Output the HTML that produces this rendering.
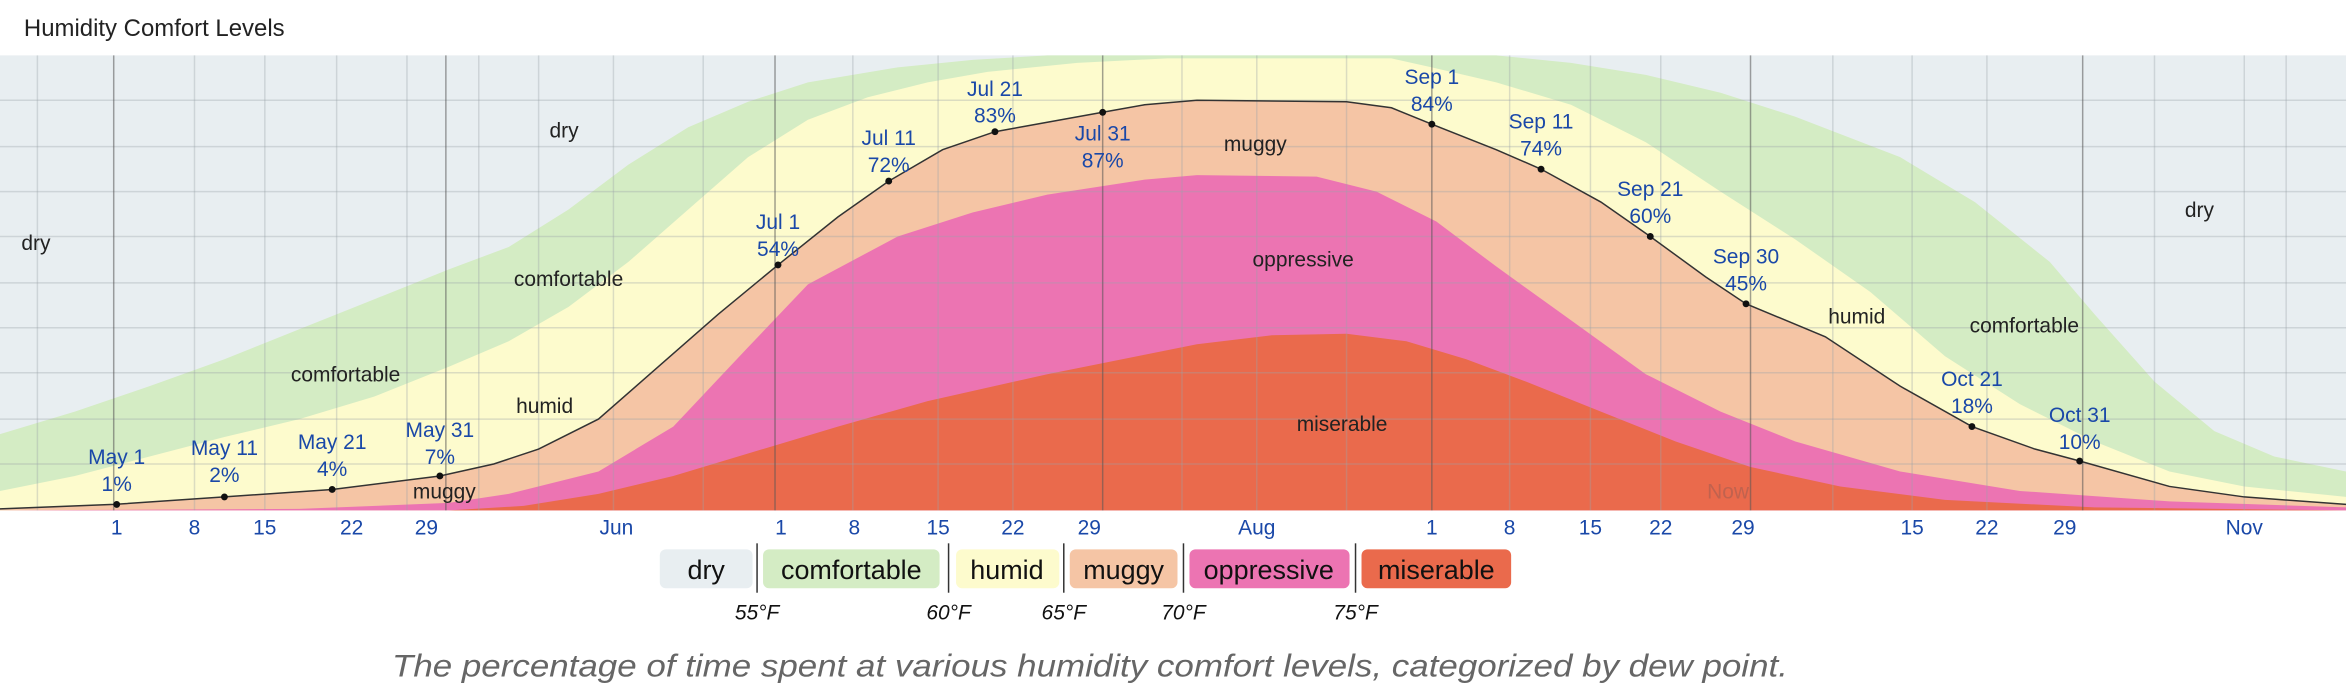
<!DOCTYPE html>
<html><head><meta charset="utf-8"><style>
html,body{margin:0;padding:0;background:#fff;}
svg{display:block;font-family:"Liberation Sans",Arial,sans-serif;}
</style></head><body>
<svg width="2346" height="696" viewBox="0 0 1568 465" preserveAspectRatio="none" xmlns="http://www.w3.org/2000/svg">
<rect width="1568" height="465" fill="#fff"/>
<text x="16" y="24" font-size="16" fill="#222">Humidity Comfort Levels</text>
<rect x="0" y="37" width="1568" height="304" fill="#e8eef1"/>
<path fill="#d4ecc4" d="M0,290 L50,275 L100,258 L150,240 L200,220 L250,200 L300,180 L340,165 L380,140 L420,110 L460,85 L500,68 L540,55 L600,45 L650,40 L700,37 L1000,37 L1050,42 L1100,50 L1150,62 L1200,78 L1270,105 L1320,135 L1370,175 L1400,210 L1440,255 L1480,288 L1520,305 L1568,315 L1568,341 L0,341 Z"/>
<path fill="#fdfbcd" d="M0,328 L50,318 L100,305 L150,292 L200,280 L250,265 L300,245 L340,228 L380,205 L420,175 L460,140 L500,105 L540,80 L580,65 L620,55 L660,48 L720,42 L780,39 L930,39 L957,45 L1000,55 L1050,70 L1100,95 L1150,128 L1200,160 L1250,195 L1300,238 L1350,270 L1400,295 L1450,315 L1500,325 L1568,332 L1568,341 L0,341 Z"/>
<path fill="#f5c5a5" d="M0,340 L76,337 L150,332 L222,327 L294,318 L330,310 L360,300 L400,280 L440,245 L480,210 L520,177 L560,145 L594,121 L630,100 L665,88 L737,75 L765,70 L800,67 L900,68 L930,72 L957,83 L1000,100 L1030,113 L1070,135 L1103,158 L1140,185 L1167,203 L1220,225 L1270,258 L1318,285 L1360,300 L1390,308 L1450,325 L1500,332 L1568,337 L1568,341 L0,341 Z"/>
<path fill="#ec74b2" d="M0,341 L200,340 L300,336 L340,330 L400,315 L450,285 L500,232 L540,190 L600,158 L650,142 L700,130 L765,120 L800,117 L880,118 L920,128 L960,148 L1000,178 L1050,214 L1100,250 L1150,275 L1200,295 L1270,315 L1350,328 L1450,335 L1568,339 L1568,341 Z"/>
<path fill="#ea6a4c" d="M300,341 L350,338 L400,330 L450,318 L500,303 L560,285 L620,268 L700,250 L765,237 L800,230 L850,224 L900,223 L940,228 L980,240 L1020,255 L1070,275 L1120,295 L1170,312 L1230,325 L1300,334 L1400,339 L1568,341 Z"/>
<g stroke="#9aa3a8" stroke-opacity="0.35" stroke-width="1">
<line x1="0" y1="67" x2="1568" y2="67"/><line x1="0" y1="98" x2="1568" y2="98"/><line x1="0" y1="128" x2="1568" y2="128"/><line x1="0" y1="158" x2="1568" y2="158"/><line x1="0" y1="189" x2="1568" y2="189"/><line x1="0" y1="219" x2="1568" y2="219"/><line x1="0" y1="249" x2="1568" y2="249"/><line x1="0" y1="280" x2="1568" y2="280"/><line x1="0" y1="310" x2="1568" y2="310"/>
<line x1="25" y1="37" x2="25" y2="341"/><line x1="130" y1="37" x2="130" y2="341"/><line x1="177" y1="37" x2="177" y2="341"/><line x1="225" y1="37" x2="225" y2="341"/><line x1="272" y1="37" x2="272" y2="341"/><line x1="320" y1="37" x2="320" y2="341"/><line x1="360" y1="37" x2="360" y2="341"/><line x1="410" y1="37" x2="410" y2="341"/><line x1="470" y1="37" x2="470" y2="341"/><line x1="570" y1="37" x2="570" y2="341"/><line x1="627" y1="37" x2="627" y2="341"/><line x1="677" y1="37" x2="677" y2="341"/><line x1="790" y1="37" x2="790" y2="341"/><line x1="840" y1="37" x2="840" y2="341"/><line x1="900" y1="37" x2="900" y2="341"/><line x1="1009" y1="37" x2="1009" y2="341"/><line x1="1063" y1="37" x2="1063" y2="341"/><line x1="1110" y1="37" x2="1110" y2="341"/><line x1="1225" y1="37" x2="1225" y2="341"/><line x1="1278" y1="37" x2="1278" y2="341"/><line x1="1328" y1="37" x2="1328" y2="341"/><line x1="1440" y1="37" x2="1440" y2="341"/><line x1="1500" y1="37" x2="1500" y2="341"/><line x1="1528" y1="37" x2="1528" y2="341"/>
</g>
<g stroke="#555" stroke-opacity="0.55" stroke-width="1">
<line x1="76" y1="37" x2="76" y2="341"/><line x1="298" y1="37" x2="298" y2="341"/><line x1="518" y1="37" x2="518" y2="341"/><line x1="737" y1="37" x2="737" y2="341"/><line x1="957" y1="37" x2="957" y2="341"/><line x1="1170" y1="37" x2="1170" y2="341"/><line x1="1392" y1="37" x2="1392" y2="341"/>
</g>
<path fill="none" stroke="#333" stroke-width="1" d="M0,340 L76,337 L150,332 L222,327 L294,318 L330,310 L360,300 L400,280 L440,245 L480,210 L520,177 L560,145 L594,121 L630,100 L665,88 L737,75 L765,70 L800,67 L900,68 L930,72 L957,83 L1000,100 L1030,113 L1070,135 L1103,158 L1140,185 L1167,203 L1220,225 L1270,258 L1318,285 L1360,300 L1390,308 L1450,325 L1500,332 L1568,337"/>
<g fill="#111">
<circle cx="78" cy="337" r="2.3"/><circle cx="150" cy="332" r="2.3"/><circle cx="222" cy="327" r="2.3"/><circle cx="294" cy="318" r="2.3"/><circle cx="520" cy="177" r="2.3"/><circle cx="594" cy="121" r="2.3"/><circle cx="665" cy="88" r="2.3"/><circle cx="737" cy="75" r="2.3"/><circle cx="957" cy="83" r="2.3"/><circle cx="1030" cy="113" r="2.3"/><circle cx="1103" cy="158" r="2.3"/><circle cx="1167" cy="203" r="2.3"/><circle cx="1318" cy="285" r="2.3"/><circle cx="1390" cy="308" r="2.3"/>
</g>
<g font-size="14" fill="#222" text-anchor="middle">
<text x="24" y="167">dry</text><text x="377" y="92">dry</text><text x="1470" y="145">dry</text>
<text x="231" y="255">comfortable</text><text x="380" y="191">comfortable</text><text x="1353" y="222">comfortable</text>
<text x="364" y="276">humid</text><text x="1241" y="216">humid</text>
<text x="297" y="333">muggy</text><text x="839" y="101">muggy</text>
<text x="871" y="178">oppressive</text><text x="897" y="288">miserable</text>
<text x="1155" y="333" fill="#b06050" opacity="0.7">Now</text>
</g>
<g font-size="14" fill="#1a48a8" text-anchor="middle">
<text x="78" y="310">May 1</text><text x="78" y="328">1%</text>
<text x="150" y="304">May 11</text><text x="150" y="322">2%</text>
<text x="222" y="300">May 21</text><text x="222" y="318">4%</text>
<text x="294" y="292">May 31</text><text x="294" y="310">7%</text>
<text x="520" y="153">Jul 1</text><text x="520" y="171">54%</text>
<text x="594" y="97">Jul 11</text><text x="594" y="115">72%</text>
<text x="665" y="64">Jul 21</text><text x="665" y="82">83%</text>
<text x="737" y="94">Jul 31</text><text x="737" y="112">87%</text>
<text x="957" y="56">Sep 1</text><text x="957" y="74">84%</text>
<text x="1030" y="86">Sep 11</text><text x="1030" y="104">74%</text>
<text x="1103" y="131">Sep 21</text><text x="1103" y="149">60%</text>
<text x="1167" y="176">Sep 30</text><text x="1167" y="194">45%</text>
<text x="1318" y="258">Oct 21</text><text x="1318" y="276">18%</text>
<text x="1390" y="282">Oct 31</text><text x="1390" y="300">10%</text>
</g>
<g font-size="14" fill="#1a48a8" text-anchor="middle">
<text x="78" y="357">1</text><text x="130" y="357">8</text><text x="177" y="357">15</text><text x="235" y="357">22</text><text x="285" y="357">29</text><text x="412" y="357">Jun</text><text x="522" y="357">1</text><text x="571" y="357">8</text><text x="627" y="357">15</text><text x="677" y="357">22</text><text x="728" y="357">29</text><text x="840" y="357">Aug</text><text x="957" y="357">1</text><text x="1009" y="357">8</text><text x="1063" y="357">15</text><text x="1110" y="357">22</text><text x="1165" y="357">29</text><text x="1278" y="357">15</text><text x="1328" y="357">22</text><text x="1380" y="357">29</text><text x="1500" y="357">Nov</text>
</g>
<g font-size="18" fill="#111" text-anchor="middle">
<rect x="441" y="367" width="62" height="26" rx="4" fill="#e8eef1"/><text x="472" y="387">dry</text>
<rect x="510" y="367" width="118" height="26" rx="4" fill="#d4ecc4"/><text x="569" y="387">comfortable</text>
<rect x="639" y="367" width="69" height="26" rx="4" fill="#fdfbcd"/><text x="673" y="387">humid</text>
<rect x="715" y="367" width="72" height="26" rx="4" fill="#f5c5a5"/><text x="751" y="387">muggy</text>
<rect x="795" y="367" width="107" height="26" rx="4" fill="#ec74b2"/><text x="848" y="387">oppressive</text>
<rect x="910" y="367" width="100" height="26" rx="4" fill="#ea6a4c"/><text x="960" y="387">miserable</text>
</g>
<g stroke="#333" stroke-width="1">
<line x1="506" y1="363" x2="506" y2="396"/><line x1="634" y1="363" x2="634" y2="396"/><line x1="711" y1="363" x2="711" y2="396"/><line x1="791" y1="363" x2="791" y2="396"/><line x1="906" y1="363" x2="906" y2="396"/>
</g>
<g font-size="14" fill="#111" font-style="italic" text-anchor="middle">
<text x="506" y="414">55°F</text><text x="634" y="414">60°F</text><text x="711" y="414">65°F</text><text x="791" y="414">70°F</text><text x="906" y="414">75°F</text>
</g>
<text x="262" y="452" font-size="21" fill="#666" font-style="italic" textLength="933" lengthAdjust="spacingAndGlyphs">The percentage of time spent at various humidity comfort levels, categorized by dew point.</text>
</svg>
</body></html>
